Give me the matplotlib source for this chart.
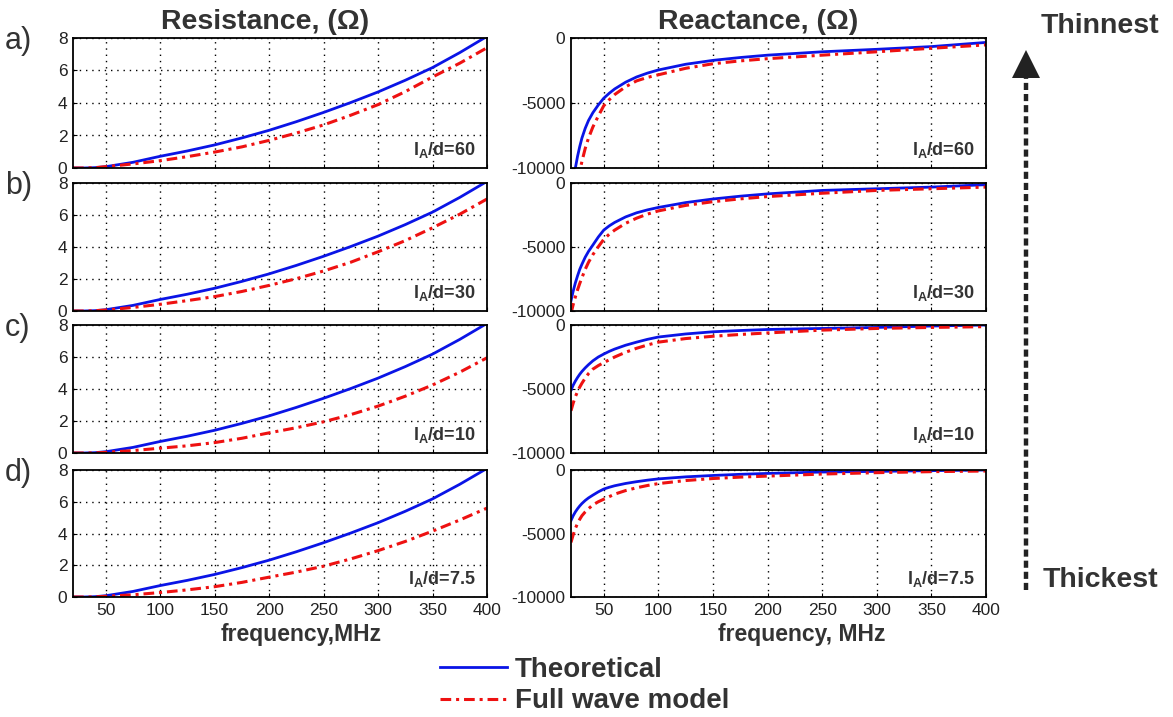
import matplotlib
matplotlib.use("Agg")
import matplotlib.pyplot as plt
from matplotlib.lines import Line2D
from matplotlib.patches import Polygon

plt.rcParams['font.family'] = ['Liberation Sans', 'DejaVu Sans']
plt.rcParams['mathtext.fontset'] = 'custom'
plt.rcParams['mathtext.rm'] = 'Liberation Sans'
plt.rcParams['mathtext.bf'] = 'Liberation Sans:bold'
plt.rcParams['axes.unicode_minus'] = False

# ---------------- data ----------------
ratios = ["60", "30", "10", "7.5"]
row_tags = ["a)", "b)", "c)", "d)"]

# resistance (Ohm) vs frequency (MHz)
f_res = [20, 30, 40, 50, 75, 100, 125, 150, 175, 200, 225, 250, 275, 300, 325, 350, 375, 400]
r_theory = [0.0, 0.0, 0.02, 0.08, 0.35, 0.72, 1.05, 1.42, 1.85, 2.32, 2.85, 3.42, 4.03, 4.68, 5.40, 6.18, 7.10, 8.10]
r_fullwave = {
    "60":  [0.0, 0.0, 0.02, 0.08, 0.25, 0.45, 0.70, 0.98, 1.30, 1.70, 2.15, 2.65, 3.25, 3.90, 4.70, 5.60, 6.45, 7.40],
    "30":  [0.0, 0.0, 0.02, 0.06, 0.22, 0.42, 0.65, 0.90, 1.22, 1.60, 2.02, 2.50, 3.05, 3.70, 4.40, 5.20, 6.05, 7.00],
    "10":  [0.0, 0.0, 0.01, 0.04, 0.15, 0.30, 0.45, 0.65, 0.92, 1.26, 1.58, 1.95, 2.40, 2.93, 3.55, 4.25, 5.05, 5.95],
    "7.5": [0.0, 0.0, 0.01, 0.04, 0.14, 0.28, 0.45, 0.65, 0.92, 1.25, 1.57, 1.94, 2.40, 2.92, 3.50, 4.15, 4.85, 5.60],
}

# reactance (Ohm) vs frequency (MHz)
f_x = [20, 22, 24, 26, 28, 30, 33, 36, 40, 45, 50, 55, 60, 70, 80, 90, 100, 125, 150, 175, 200, 250, 300, 350, 400]
x_theory = {
    "60":  [-12000, -10900, -10000, -9100, -8350, -7700, -6950, -6350, -5750, -5150, -4630, -4250, -3920,
            -3400, -3000, -2700, -2460, -2020, -1720, -1500, -1320, -1060, -870, -660, -340],
    "30":  [-9200, -8450, -7800, -7250, -6750, -6350, -5800, -5350, -4850, -4220, -3680, -3350, -3080,
            -2650, -2330, -2100, -1910, -1530, -1250, -1030, -850, -580, -450, -320, -130],
    "10":  [-5100, -4700, -4380, -4100, -3850, -3630, -3350, -3100, -2800, -2500, -2270, -2060, -1880,
            -1580, -1340, -1120, -940, -700, -530, -430, -350, -270, -190, -80, 0],
    "7.5": [-3980, -3600, -3300, -3050, -2830, -2640, -2400, -2200, -1980, -1720, -1500, -1360, -1240,
            -1060, -920, -800, -700, -540, -430, -340, -270, -160, -110, -50, 0],
}
x_fullwave = {
    "60":  [-14500, -13000, -11900, -11000, -10250, -9500, -8500, -7700, -6850, -6000, -5210, -4750, -4350,
            -3750, -3300, -3030, -2830, -2330, -1980, -1760, -1590, -1320, -1060, -790, -530],
    "30":  [-10200, -9500, -8900, -8350, -7850, -7400, -6750, -6200, -5600, -4980, -4400, -4000, -3680,
            -3150, -2750, -2430, -2180, -1750, -1460, -1240, -1060, -800, -580, -450, -320],
    "10":  [-6700, -6100, -5600, -5200, -4850, -4550, -4150, -3800, -3450, -3170, -2940, -2720, -2500,
            -2130, -1820, -1560, -1340, -1060, -880, -740, -620, -400, -270, -190, -130],
    "7.5": [-5700, -5100, -4600, -4200, -3880, -3600, -3300, -3050, -2750, -2500, -2300, -2100, -1900,
            -1620, -1400, -1220, -1070, -830, -670, -560, -480, -320, -210, -130, -80],
}

freq_ticks = [50, 100, 150, 200, 250, 300, 350, 400]
res_ticks = [0, 2, 4, 6, 8]
react_ticks = [-10000, -5000, 0]

# ---------------- figure ----------------
W, H = 1173, 717
fig = plt.figure(figsize=(W / 100, H / 100), dpi=100)
TXT = '#333333'
BLUE = '#0a14e6'
RED = '#ee1111'
dashdot = (0, (3.5, 1.6, 1.0, 1.6))


def rect(x0, y0, x1, y1):
    return [x0 / W, 1 - y1 / H, (x1 - x0) / W, (y1 - y0) / H]


rows = [(38, 168), (183, 311), (325, 453), (470, 597)]
left_x = (73, 487)
right_x = (571, 986)


def style(ax, last):
    ax.set_xlim(20, 400)
    ax.set_xticks(freq_ticks)
    ax.grid(True, color='black', linestyle=(0, (1, 3.5)), linewidth=1.0)
    ax.tick_params(direction='in', length=3, labelsize=12.5, colors='black',
                   labelcolor='#222222', pad=4)
    for s in ax.spines.values():
        s.set_linewidth(1.3)
        s.set_color('black')
    if not last:
        ax.tick_params(labelbottom=False)


theory_handle = fullwave_handle = None
for i, key in enumerate(ratios):
    y0, y1 = rows[i]
    last = i == len(ratios) - 1

    axl = fig.add_axes(rect(left_x[0], y0, left_x[1], y1))
    theory_handle, = axl.plot(f_res, r_theory, color=BLUE, lw=2.0, label='Theoretical')
    fullwave_handle, = axl.plot(f_res, r_fullwave[key], color=RED, lw=2.2,
                                linestyle=dashdot, label='Full wave model')
    axl.set_ylim(0, 8)
    axl.set_yticks(res_ticks)
    style(axl, last)

    axr = fig.add_axes(rect(right_x[0], y0, right_x[1], y1))
    axr.plot(f_x, x_theory[key], color=BLUE, lw=2.0)
    axr.plot(f_x, x_fullwave[key], color=RED, lw=2.2, linestyle=dashdot)
    axr.set_ylim(-10000, 0)
    axr.set_yticks(react_ticks)
    style(axr, last)

    label = r"l$_\mathbf{A}$/d=%s" % key
    for ax in (axl, axr):
        ax.text(0.972, 0.06, label, transform=ax.transAxes, ha='right', va='bottom',
                fontsize=13, color=TXT, fontweight='bold')

    fig.text(5 / W, 1 - (y0 + 3) / H, row_tags[i], fontsize=22, color=TXT,
             ha='left', va='center')

    if last:
        axl.set_xlabel('frequency,MHz', fontsize=16.5, fontweight='bold', color=TXT, labelpad=0)
        axl.xaxis.set_label_coords(0.55, -0.205)
        axr.set_xlabel('frequency, MHz', fontsize=16.5, fontweight='bold', color=TXT, labelpad=0)
        axr.xaxis.set_label_coords(0.557, -0.205)

# column titles
fig.text(265 / W, 1 - 22 / H, 'Resistance, (Ω)', fontsize=20.5, fontweight='bold',
         color=TXT, ha='center', va='center')
fig.text(758 / W, 1 - 22 / H, 'Reactance, (Ω)', fontsize=20.5, fontweight='bold',
         color=TXT, ha='center', va='center')

# legend
leg = fig.legend(handles=[theory_handle, fullwave_handle],
                 labels=['Theoretical', 'Full wave model'],
                 loc='upper left', bbox_to_anchor=(426 / W, 1 - 643 / H),
                 frameon=False, handlelength=2.4, handletextpad=0.3,
                 labelspacing=0.2, borderpad=0.0,
                 prop={'size': 20, 'weight': 'bold'})
for t in leg.get_texts():
    t.set_color(TXT)

# thickness direction arrow
ax_x = 1026 / W
fig.add_artist(Line2D([ax_x, ax_x], [1 - 590 / H, 1 - 76 / H], transform=fig.transFigure,
                      color='#222222', lw=3.2, linestyle=(0, (1.6, 0.9))))
fig.add_artist(Polygon([[1012 / W, 1 - 78 / H], [1040 / W, 1 - 78 / H], [1026 / W, 1 - 50 / H]],
                       closed=True, transform=fig.transFigure, color='#222222', lw=0))
fig.text(1100 / W, 1 - 26 / H, 'Thinnest', fontsize=20.5, fontweight='bold', color=TXT,
         ha='center', va='center')
fig.text(1100 / W, 1 - 580 / H, 'Thickest', fontsize=20.5, fontweight='bold', color=TXT,
         ha='center', va='center')

fig.savefig('out.png', dpi=100)
